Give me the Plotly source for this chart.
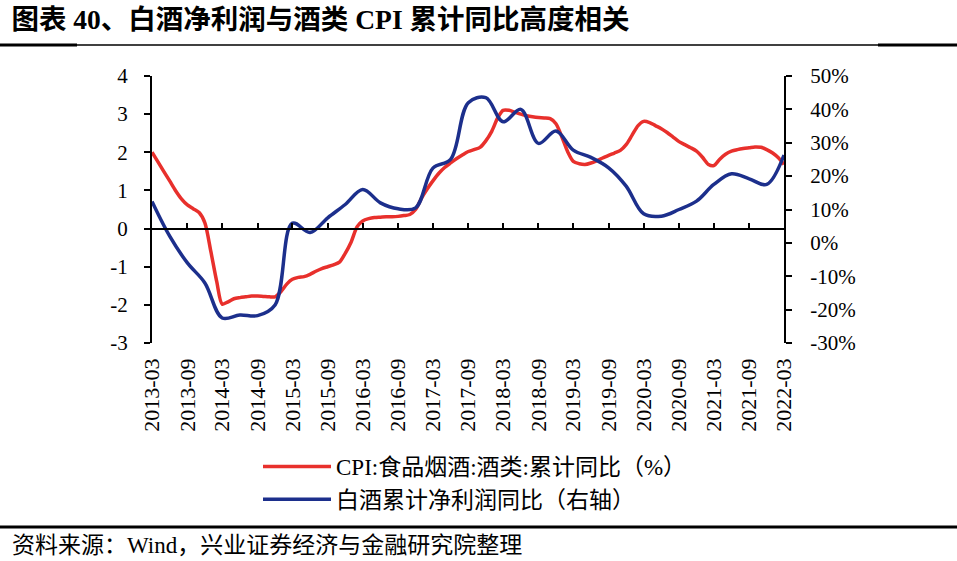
import pandas as pd
import plotly.graph_objects as go

# ---- data ----
months = pd.date_range("2013-03-01", "2022-03-01", freq="MS")
cpi_liquor = [
    2.0, 1.75, 1.5, 1.25, 1.0, 0.78, 0.62, 0.52, 0.42, 0.15,
    -0.6, -1.4, -1.98, -1.92, -1.84, -1.81, -1.79, -1.77, -1.77, -1.78,
    -1.79, -1.79, -1.65, -1.45, -1.33, -1.28, -1.26, -1.2, -1.12, -1.05,
    -1.0, -0.95, -0.88, -0.65, -0.35, 0.05, 0.2, 0.26, 0.29, 0.3,
    0.31, 0.31, 0.32, 0.34, 0.37, 0.5, 0.8, 1.05, 1.25, 1.45,
    1.6, 1.72, 1.83, 1.93, 2.02, 2.07, 2.13, 2.3, 2.55, 2.9,
    3.1, 3.1, 3.05, 3.0, 2.96, 2.93, 2.91, 2.9, 2.88, 2.75,
    2.4, 2.0, 1.76, 1.7, 1.68, 1.72, 1.78, 1.85, 1.92, 1.98,
    2.05, 2.2, 2.45, 2.7, 2.81, 2.78, 2.7, 2.62, 2.52, 2.4,
    2.28, 2.2, 2.12, 2.03, 1.87, 1.68, 1.65, 1.82, 1.95, 2.03,
    2.07, 2.1, 2.12, 2.14, 2.13, 2.07, 1.98, 1.85, 1.68,
]
quarters = pd.date_range("2013-03-01", "2022-03-01", freq="3MS")
baijiu_profit = [
    12.4, 2.0, -6.0, -12.0, -22.5, -21.6, -21.8, -18.6, 5.9, 3.1,
    7.5, 11.5, 16.0, 12.0, 10.2, 10.5, 22.4, 25.0, 42.0, 43.5,
    36.3, 40.0, 29.8, 33.5, 27.8, 25.6, 22.5, 17.0, 8.7, 8.0,
    10.0, 12.5, 17.5, 20.7, 19.2, 17.5, 26.3,
]
left_ticks = [-3, -2, -1, 0, 1, 2, 3, 4]
left_labels = ["-3", "-2", "-1", "0", "1", "2", "3", "4"]
right_ticks = [-30, -20, -10, 0, 10, 20, 30, 40, 50]
right_labels = ["-30%", "-20%", "-10%", "0%", "10%", "20%", "30%", "40%", "50%"]
name_cpi = "CPI:食品烟酒:酒类:累计同比（%）"
name_profit = "白酒累计净利润同比（右轴）"
title_text = "图表 40、白酒净利润与酒类 CPI 累计同比高度相关"
source_text = "资料来源：Wind，兴业证券经济与金融研究院整理"

RED = "#E8302C"
BLUE = "#1C2F8C"
SERIF = "Liberation Serif, Noto Sans CJK SC, serif"
MIX = "Liberation Serif, Noto Sans CJK SC"

fig = go.Figure()
fig.add_trace(go.Scatter(x=months, y=cpi_liquor, name=name_cpi, mode="lines",
                         line=dict(color=RED, width=3.5, shape="spline", smoothing=0.8),
                         xaxis="x", yaxis="y"))
fig.add_trace(go.Scatter(x=quarters, y=baijiu_profit, name=name_profit, mode="lines",
                         line=dict(color=BLUE, width=3.5, shape="spline", smoothing=1.0),
                         xaxis="x", yaxis="y2"))

xr = ["2013-03-01", "2022-03-01"]
L, R, T, B = 152, 173, 76, 218
W, H = 957, 561
pw, ph = W - L - R, H - T - B


def px_x(p):
    return (p - L) / pw


def px_y(p):
    return (H - B - p) / ph


fig.update_layout(
    width=W, height=H,
    margin=dict(l=L, r=R, t=T, b=B, autoexpand=False),
    paper_bgcolor="white", plot_bgcolor="white",
    showlegend=True,
    font=dict(family=SERIF, color="black", size=20),
    title=dict(text="<b>" + title_text + "</b>", x=0.012, xanchor="left",
               y=0.965, yanchor="middle", font=dict(size=27.5, family=MIX, color="black")),
    xaxis=dict(type="date", range=xr, tick0="2013-03-01", dtick="M6", tickformat="%Y-%m",
               tickangle=-90, showgrid=False, zeroline=False, showline=False, ticks="",
               ticklabelstandoff=10, automargin=False,
               tickfont=dict(size=22, family=SERIF)),
    xaxis2=dict(type="date", range=xr, tick0="2013-03-01", dtick="M6", overlaying="x",
                anchor="free", position=3 / 7, showgrid=False, zeroline=False,
                showline=True, linecolor="black", linewidth=2, ticks="inside", ticklen=5,
                tickwidth=2, tickcolor="black", showticklabels=False, side="bottom"),
    yaxis=dict(range=[-3, 4], tickvals=left_ticks, ticktext=left_labels, showgrid=False,
               zeroline=False, showline=True, automargin=False,
               linecolor="black", linewidth=2, ticks="outside", ticklen=6, tickwidth=2,
               tickcolor="black", ticklabelstandoff=12, tickfont=dict(size=21, family=SERIF)),
    yaxis2=dict(range=[-30, 50], tickvals=right_ticks, ticktext=right_labels,
                overlaying="y", side="right", showgrid=False, automargin=False,
                zeroline=False, showline=True, linecolor="black", linewidth=2,
                ticks="outside", ticklen=6, tickwidth=2, tickcolor="black",
                ticklabelstandoff=14, tickfont=dict(size=21, family=SERIF)),
    legend=dict(x=px_x(258), y=px_y(445), xanchor="left", yanchor="top",
                orientation="v", itemwidth=68, tracegroupgap=1,
                font=dict(size=23, family=MIX),
                bgcolor="rgba(0,0,0,0)"),
    shapes=[
        dict(type="line", xref="paper", yref="paper", x0=px_x(0), x1=px_x(W),
             y0=px_y(45), y1=px_y(45), line=dict(color="black", width=1.5)),
        dict(type="line", xref="paper", yref="paper", x0=px_x(0), x1=px_x(77),
             y0=px_y(45), y1=px_y(45), line=dict(color="black", width=3)),
        dict(type="line", xref="paper", yref="paper", x0=px_x(878), x1=px_x(W),
             y0=px_y(45), y1=px_y(45), line=dict(color="black", width=3)),
        dict(type="line", xref="paper", yref="paper", x0=px_x(0), x1=px_x(W),
             y0=px_y(527), y1=px_y(527), line=dict(color="black", width=3)),
    ],
    annotations=[
        dict(text=source_text, xref="paper", yref="paper", x=px_x(10), y=px_y(545),
             xanchor="left", yanchor="middle", showarrow=False,
             font=dict(size=23, family=MIX, color="black")),
    ],
)
# invisible trace so that xaxis2 is rendered
fig.add_trace(go.Scatter(x=[months[0]], y=[None], xaxis="x2", yaxis="y",
                         showlegend=False, hoverinfo="skip"))

fig.write_html("out.html", config={"displayModeBar": False},
               post_script="document.body.style.margin='0px';document.body.style.overflow='hidden';")
